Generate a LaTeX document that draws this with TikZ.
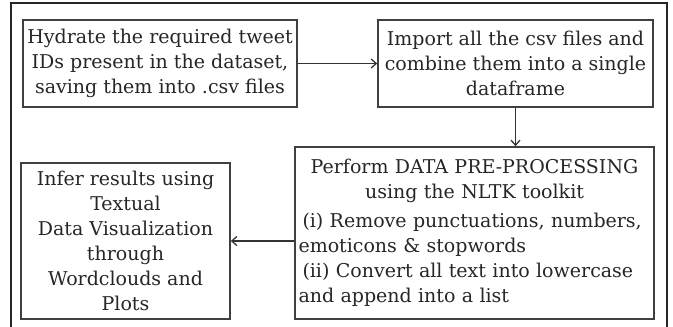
\documentclass[tikz,border=0pt]{standalone}
\usepackage{fontspec}
\setmainfont{DejaVu Serif}
\usetikzlibrary{arrows.meta}
\begin{document}
\begin{tikzpicture}[x=1pt,y=-1pt,
  boxfont/.style={font=\fontsize{19}{25}\selectfont, text=black!85},
  stepbox/.style={draw=black!75, line width=1.7pt, inner sep=0pt, align=center, boxfont},
  flow/.style={draw=black!80, line width=1.7pt, -{Straight Barb[length=5pt,width=9pt,line width=1.3pt]}}
]
\useasboundingbox (0,0) rectangle (673,327);
% outer frame (runs past the lower edge)
\draw[black!85, line width=2.4pt] (11,340) -- (11,3) -- (667,3) -- (667,340);

\node[stepbox, minimum width=274pt, minimum height=87pt] (b1) at (160,63.5)
  {Hydrate the required tweet\\IDs present in the dataset,\\saving them into .csv files};
\node[stepbox, minimum width=275pt, minimum height=87pt] (b2) at (515.5,63.5)
  {Import all the csv files and\\combine them into a single\\dataframe};
\node[stepbox, minimum width=359pt, minimum height=172pt] (b3) at (474.5,233) {};
\node[boxfont, text width=352pt, align=left, inner sep=0pt]
  (b3text) at (b3.center)
  {{\centering Perform DATA PRE-PROCESSING\\ using the NLTK toolkit\par}\vspace{4pt}%
   \hspace*{4pt}(i) Remove punctuations, numbers,\\
   emoticons \& stopwords\\
   \hspace*{4pt}(ii) Convert all text into lowercase\\
   and append into a list};
\node[stepbox, minimum width=209pt, minimum height=156pt] (b4) at (125.5,241)
  {Infer results using\\Textual\\Data Visualization\\through\\Wordclouds and\\Plots};

\draw[flow] (b1.east) -- (b2.west);
\draw[flow] (b2.south) -- (b2.south |- b3.north);
\draw[flow] (b3.west |- b4.east) -- (b4.east);
\end{tikzpicture}
\end{document}
